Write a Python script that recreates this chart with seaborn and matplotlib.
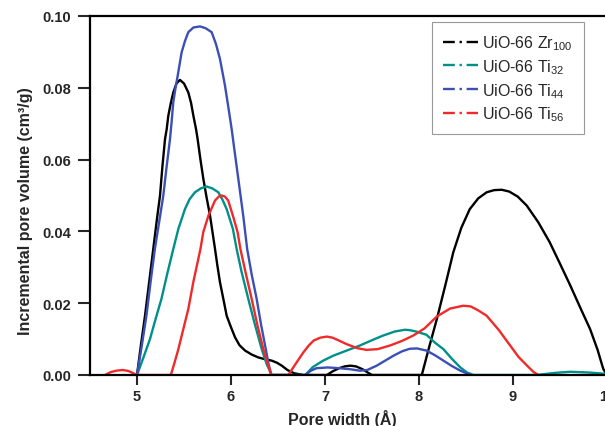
import pandas as pd
import seaborn as sns
import numpy as np
import matplotlib
matplotlib.use("Agg")
import matplotlib.pyplot as plt
from matplotlib.lines import Line2D

# pore size distributions (pore width in A, volume in cm3/g)
zr100_x = [5.00, 5.04, 5.085, 5.13, 5.173, 5.21, 5.245, 5.27, 5.298, 5.316, 5.333, 5.36, 5.386, 5.42,
           5.457, 5.50, 5.546, 5.575, 5.60, 5.628, 5.645, 5.675, 5.706, 5.74, 5.777, 5.83, 5.855, 5.883,
           5.92, 5.954, 6.00, 6.043, 6.09, 6.15, 6.22, 6.29, 6.36, 6.433, 6.49, 6.54, 6.60, 6.67, 6.77,
           7.02, 7.08, 7.15, 7.21, 7.27, 7.33, 7.40, 7.46, 7.50, 8.03, 8.10, 8.19, 8.28, 8.365, 8.45,
           8.54, 8.63, 8.72, 8.80, 8.88, 8.96, 9.05, 9.146, 9.27, 9.39, 9.50, 9.61, 9.72, 9.82, 9.90,
           9.96, 10.0]
zr100_y = [0, 0.008, 0.0165, 0.026, 0.0351, 0.043, 0.050, 0.058, 0.0657, 0.0685, 0.0722, 0.0758, 0.0787,
           0.0812, 0.0822, 0.0812, 0.0787, 0.0758, 0.0722, 0.0685, 0.0657, 0.060, 0.0546, 0.0495, 0.0444,
           0.0351, 0.0305, 0.0258, 0.021, 0.0165, 0.0133, 0.0105, 0.0083, 0.0068, 0.0057, 0.0049, 0.0044,
           0.004, 0.0034, 0.0026, 0.0014, 0.0005, 0, 0, 0.001, 0.0019, 0.0024, 0.0026, 0.0024, 0.0016,
           0.0006, 0, 0, 0.007, 0.0156, 0.025, 0.0342, 0.041, 0.0462, 0.0492, 0.0509, 0.0515, 0.0516,
           0.0511, 0.0497, 0.0472, 0.0425, 0.037, 0.031, 0.0249, 0.0185, 0.0128, 0.007, 0.0017, 0]

ti32_x = [5.00, 5.07, 5.138, 5.20, 5.26, 5.32, 5.386, 5.44, 5.51, 5.56, 5.617, 5.68, 5.741, 5.80, 5.865,
          5.91, 5.954, 6.02, 6.06, 6.11, 6.184, 6.25, 6.327, 6.38, 6.433, 6.79, 6.87, 6.98, 7.09, 7.23,
          7.37, 7.50, 7.62, 7.74, 7.85, 7.90, 7.97, 8.08, 8.17, 8.26, 8.35, 8.44, 8.51, 8.58, 9.25,
          9.45, 9.61, 9.80, 10.0]
ti32_y = [0, 0.005, 0.010, 0.0158, 0.0212, 0.028, 0.0351, 0.0407, 0.0462, 0.049, 0.0509, 0.052, 0.0525,
          0.052, 0.0509, 0.0488, 0.0462, 0.0407, 0.0351, 0.029, 0.0212, 0.0145, 0.0072, 0.003, 0, 0,
          0.0022, 0.0040, 0.0054, 0.0068, 0.0082, 0.0097, 0.011, 0.0121, 0.0126, 0.0125, 0.0121, 0.0112,
          0.009, 0.0072, 0.0045, 0.0021, 0.0007, 0, 0, 0.0006, 0.0009, 0.0007, 0.0003]

ti44_x = [5.00, 5.05, 5.10, 5.145, 5.19, 5.235, 5.28, 5.315, 5.351, 5.37, 5.386, 5.41, 5.433, 5.475, 5.51,
          5.546, 5.60, 5.670, 5.73, 5.794, 5.84, 5.883, 5.936, 5.98, 6.007, 6.04, 6.078, 6.13, 6.172,
          6.22, 6.273, 6.32, 6.37, 6.40, 6.43, 6.79, 6.85, 6.91, 7.03, 7.15, 7.27, 7.37, 7.45, 7.55,
          7.64, 7.73, 7.82, 7.90, 7.98, 8.08, 8.17, 8.26, 8.35, 8.44, 8.55]
ti44_y = [0, 0.008, 0.0165, 0.026, 0.0351, 0.0425, 0.050, 0.058, 0.0657, 0.071, 0.076, 0.080, 0.0834,
          0.0899, 0.093, 0.0955, 0.0968, 0.0971, 0.0966, 0.0955, 0.0922, 0.088, 0.0806, 0.0732, 0.0685,
          0.062, 0.0546, 0.0444, 0.0351, 0.028, 0.0212, 0.014, 0.0072, 0.003, 0, 0, 0.0012, 0.0019,
          0.0021, 0.0019, 0.0016, 0.0012, 0.0014, 0.0026, 0.004, 0.0054, 0.0066, 0.0073, 0.0074, 0.0068,
          0.0055, 0.004, 0.0025, 0.0012, 0]

ti56_x = [4.66, 4.72, 4.78, 4.85, 4.91, 4.96, 5.00, 5.36, 5.40, 5.44, 5.49, 5.546, 5.60, 5.675, 5.705,
          5.76, 5.83, 5.87, 5.90, 5.935, 5.97, 6.02, 6.07, 6.10, 6.16, 6.22, 6.28, 6.344, 6.39, 6.43,
          6.61, 6.69, 6.77, 6.83, 6.88, 6.95, 7.02, 7.08, 7.14, 7.23, 7.34, 7.44, 7.56, 7.69, 7.82,
          7.94, 8.06, 8.19, 8.33, 8.47, 8.55, 8.63, 8.72, 8.85, 8.97, 9.06, 9.15, 9.22, 9.27]
ti56_y = [0, 0.0008, 0.0012, 0.0014, 0.0011, 0.0005, 0, 0, 0.0035, 0.0072, 0.0125, 0.0184, 0.026, 0.0351,
          0.0398, 0.0444, 0.0486, 0.0497, 0.050, 0.0497, 0.0486, 0.0444, 0.0398, 0.0351, 0.028, 0.0212,
          0.014, 0.0072, 0.0032, 0, 0, 0.0032, 0.0063, 0.0083, 0.0096, 0.0104, 0.0107, 0.0104, 0.0097,
          0.0086, 0.0075, 0.007, 0.0072, 0.0082, 0.0095, 0.011, 0.013, 0.0163, 0.0185, 0.0193, 0.0191,
          0.018, 0.0165, 0.0125, 0.0082, 0.005, 0.0026, 0.0008, 0]

names = ["UiO-66 Zr$_{\\mathregular{100}}$", "UiO-66 Ti$_{\\mathregular{32}}$",
         "UiO-66 Ti$_{\\mathregular{44}}$", "UiO-66 Ti$_{\\mathregular{56}}$"]
colors = ["#000000", "#00908a", "#3c4fb4", "#f02a2a"]

frames = []
for name, xs, ys in zip(names, [zr100_x, ti32_x, ti44_x, ti56_x], [zr100_y, ti32_y, ti44_y, ti56_y]):
    frames.append(pd.DataFrame({"width": xs, "volume": ys, "sample": name}))
df = pd.concat(frames, ignore_index=True)

sns.set_style("ticks")
plt.rcParams["font.family"] = ["Liberation Sans", "DejaVu Sans"]
plt.rcParams["mathtext.fontset"] = "custom"
plt.rcParams["mathtext.rm"] = "Liberation Sans"

fig = plt.figure(figsize=(6.05, 4.27), dpi=100)
ax = fig.add_axes([90 / 605, 51 / 427, 535.8 / 605, 359 / 427])

sns.lineplot(data=df, x="width", y="volume", hue="sample", palette=colors, estimator=None,
             sort=False, linewidth=1.7, ax=ax, legend=False)
for line in ax.get_lines():
    line.set_solid_joinstyle("round")

ax.set_xlim(4.5, 10.2)
ax.set_ylim(0, 0.1)
ax.set_xticks([5, 6, 7, 8, 9, 10])
ax.set_yticks([0, 0.02, 0.04, 0.06, 0.08, 0.10])
ax.set_yticklabels(["0.00", "0.02", "0.04", "0.06", "0.08", "0.10"])
for s in ax.spines.values():
    s.set_linewidth(1.6)
    s.set_color("black")
ax.tick_params(axis="x", direction="out", length=7, width=1.5, pad=3, labelsize=10.5)
ax.tick_params(axis="y", direction="out", length=8.5, width=1.5, pad=5, labelsize=10.5)
for lab in ax.get_xticklabels() + ax.get_yticklabels():
    lab.set_fontweight("bold")

ax.set_xlabel("Pore width (Å)", fontsize=11.5, fontweight="bold")
ax.set_ylabel("Incremental pore volume (cm³/g)", fontsize=11.5, fontweight="bold")
ax.xaxis.set_label_coords(0.47, -0.095)
ax.yaxis.set_label_coords(-0.106, 0.458)

handles = [Line2D([], [], color=c, linewidth=1.7, linestyle=(0, (5, 2, 1, 2))) for c in colors]
leg = ax.legend(handles, names, loc="upper left", bbox_to_anchor=(432 / 605, 1 - 23 / 427),
                bbox_transform=fig.transFigure, borderaxespad=0, fontsize=11.5, frameon=True,
                fancybox=False, handlelength=2.2, handletextpad=0.25, borderpad=0.7,
                labelspacing=0.32)
leg.get_frame().set_edgecolor("#808080")
leg.get_frame().set_linewidth(0.8)

fig.savefig("out.png", dpi=100)
